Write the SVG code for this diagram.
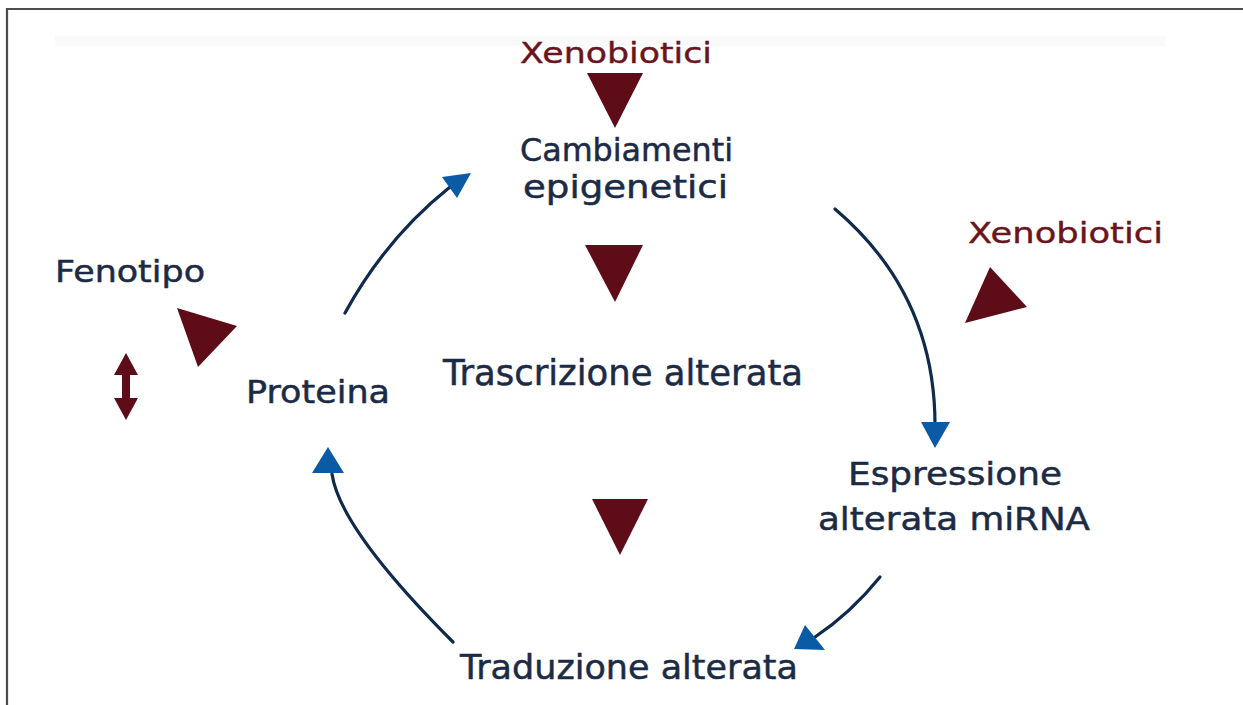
<svg xmlns="http://www.w3.org/2000/svg" width="1243" height="705" viewBox="0 0 1243 705">
<defs>
<style>
.t{font-family:"DejaVu Sans","Verdana",sans-serif;fill:#1c2b45;stroke:#1c2b45;stroke-width:0.5;}
.x{font-family:"DejaVu Sans","Verdana",sans-serif;fill:#6a1420;stroke:#6a1420;stroke-width:0.4;}
.tri{fill:#5e0c17;}
.arc{fill:none;stroke:#0f2a4a;stroke-width:3.2;stroke-linecap:round;}
.ah{fill:#0a5aa6;}
</style>
</defs>
<rect x="0" y="0" width="1243" height="705" fill="#ffffff"/>
<path d="M7,705 V9 H1243" fill="none" stroke="#4d4d4d" stroke-width="2.2"/>
<rect x="55" y="36" width="1110" height="10" fill="#fafafa"/>

<g id="connectors">
<path class="arc" d="M345,313 Q386,238 450,187"/>
<polygon class="ah" points="471,173 442,177 457,198"/>
<path class="arc" d="M835,209 Q935,294 935,425"/>
<polygon class="ah" points="935,448 921,422 950,422"/>
<path class="arc" d="M880,577 Q851,613 815,637"/>
<polygon class="ah" points="794,649 805,625 825,650"/>
<path class="arc" d="M453,642 Q340,529 332,474"/>
<polygon class="ah" points="328,447 312,473 344,473"/>
</g>

<g id="xeno-top">
<text class="x" x="520" y="63" font-size="28" textLength="192" lengthAdjust="spacingAndGlyphs">Xenobiotici</text>
<polygon class="tri" points="587,73 643,73 615,128"/>
</g>
<g id="cambiamenti">
<text class="t" x="520" y="161" font-size="32" textLength="213" lengthAdjust="spacingAndGlyphs">Cambiamenti</text>
<text class="t" x="523" y="198" font-size="32" textLength="205" lengthAdjust="spacingAndGlyphs">epigenetici</text>
</g>
<g id="tri-mid">
<polygon class="tri" points="585,245 643,245 615,302"/>
</g>
<g id="trascrizione">
<text class="t" x="443" y="385" font-size="35" textLength="360" lengthAdjust="spacingAndGlyphs">Trascrizione alterata</text>
</g>
<g id="tri-low">
<polygon class="tri" points="592,499 648,499 620,555"/>
</g>
<g id="traduzione">
<text class="t" x="460" y="679" font-size="34" textLength="338" lengthAdjust="spacingAndGlyphs">Traduzione alterata</text>
</g>
<g id="espressione">
<text class="t" x="848" y="485" font-size="32" textLength="214" lengthAdjust="spacingAndGlyphs">Espressione</text>
<text class="t" x="818" y="530" font-size="32" textLength="272" lengthAdjust="spacingAndGlyphs">alterata miRNA</text>
</g>
<g id="proteina">
<text class="t" x="246" y="403" font-size="32" textLength="144" lengthAdjust="spacingAndGlyphs">Proteina</text>
</g>
<g id="fenotipo">
<text class="t" x="55" y="282" font-size="31" textLength="150" lengthAdjust="spacingAndGlyphs">Fenotipo</text>
<polygon class="tri" points="177,308 237,326 198,367"/>
<polygon class="tri" points="126,353 138,375 130,375 130,398 138,398 126,420 114,398 122,398 122,375 114,375"/>
</g>
<g id="xeno-right">
<text class="x" x="968" y="243" font-size="29" textLength="195" lengthAdjust="spacingAndGlyphs">Xenobiotici</text>
<polygon class="tri" points="990,267 1027,307 965,323"/>
</g>
</svg>
